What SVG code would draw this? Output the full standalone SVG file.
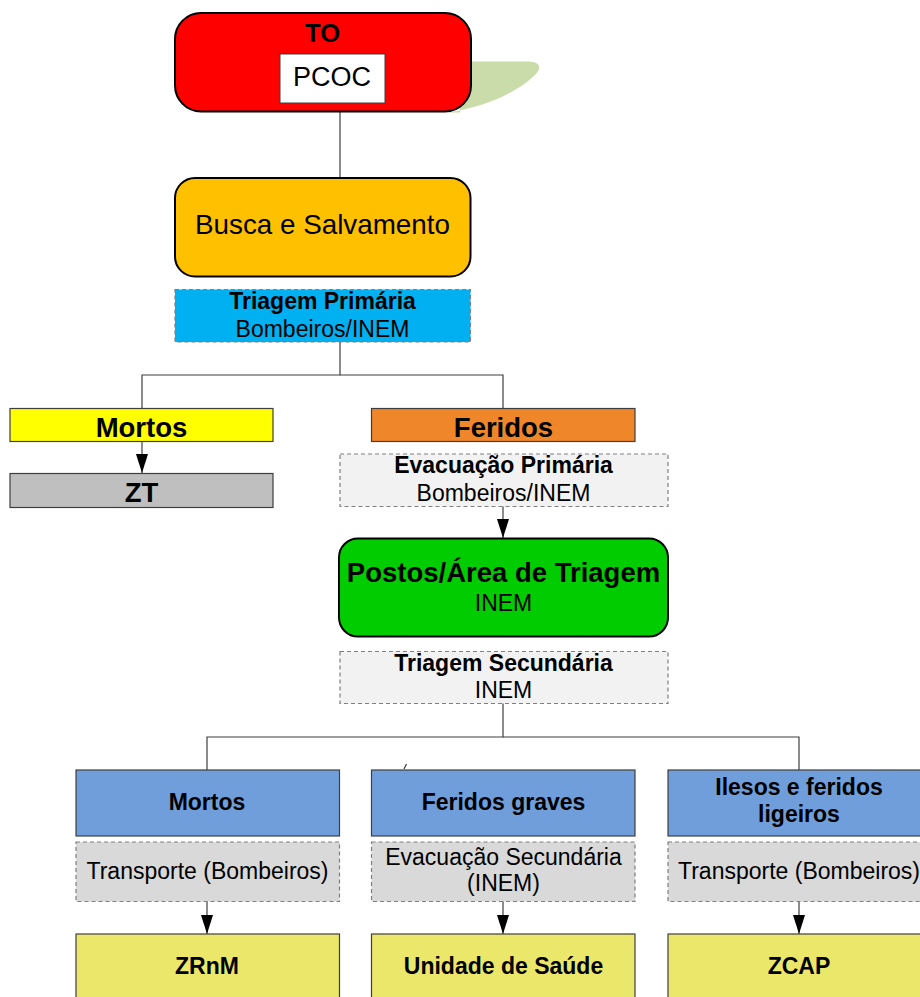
<svg xmlns="http://www.w3.org/2000/svg" width="920" height="997" viewBox="0 0 920 997">
<style>
text{font-family:"Liberation Sans",Arial,sans-serif;fill:#000;text-anchor:middle}
.b{font-weight:bold}
.big{font-size:27.5px}
.sm{font-size:23px}
.main{stroke:#000;stroke-width:2}
.solid{stroke:#3f3f3f;stroke-width:1.2}
.dash{stroke:#7f7f7f;stroke-width:1.2;stroke-dasharray:4 3}
.conn{stroke:#3f3f3f;stroke-width:1.2;fill:none}
</style>
<defs>
<marker id="arr" viewBox="0 0 19 12" refX="19" refY="6" markerWidth="19" markerHeight="12" orient="auto" markerUnits="userSpaceOnUse">
<path d="M0 0 L19 6 L0 12 Z" fill="#000"/>
</marker>
</defs>

<path id="blob" d="M460 61.5 L528 61.5 C540 62 542 67 536 74 C520 90 490 106 448 112.5 L460 112.5 Z" fill="#C9DCA9"/>

<g id="connectors">
<line class="conn" x1="340" y1="112" x2="340" y2="178"/>
<polyline class="conn" points="340,342 340,375 142,375 142,408"/>
<polyline class="conn" points="340,375 503,375 503,408"/>
<line class="conn" x1="142" y1="441" x2="142" y2="473" marker-end="url(#arr)"/>
<line class="conn" x1="503" y1="506" x2="503" y2="538" marker-end="url(#arr)"/>
<polyline class="conn" points="503,703 503,737 207,737 207,770"/>
<polyline class="conn" points="503,737 799,737 799,770"/>
<line class="conn" x1="404" y1="769" x2="406.5" y2="764" stroke-width="0.8"/>
<line class="conn" x1="207" y1="901" x2="207" y2="934" marker-end="url(#arr)"/>
<line class="conn" x1="503" y1="901" x2="503" y2="934" marker-end="url(#arr)"/>
<line class="conn" x1="799" y1="901" x2="799" y2="934" marker-end="url(#arr)"/>
</g>

<g id="to">
<rect class="main" x="175" y="13" width="296" height="98.5" rx="26" fill="#FF0000"/>
<text class="b" x="322.5" y="42" font-size="25.5">TO</text>
<rect x="280" y="54" width="105" height="49" fill="#fff" stroke="#3f3f3f" stroke-width="1"/>
<text x="332" y="86" font-size="27">PCOC</text>
</g>

<g id="busca">
<rect class="main" x="175" y="178" width="295.5" height="98.5" rx="20" fill="#FFC000"/>
<text x="322.5" y="234" font-size="27.8">Busca e Salvamento</text>
</g>

<g id="triagem-primaria">
<rect class="dash" x="175" y="289.5" width="295.5" height="52.5" fill="#00B0F0"/>
<text class="b sm" x="322.5" y="308.5">Triagem Primária</text>
<text class="sm" x="322.5" y="336.5">Bombeiros/INEM</text>
</g>

<g id="mortos1">
<rect class="solid" x="10" y="408.5" width="263" height="33" fill="#FFFF00"/>
<text class="b big" x="141.5" y="436.5">Mortos</text>
</g>

<g id="zt">
<rect class="solid" x="10" y="473.5" width="263" height="34" fill="#BFBFBF"/>
<text class="b big" x="141.5" y="501.5">ZT</text>
</g>

<g id="feridos">
<rect class="solid" x="371.5" y="408.5" width="263.5" height="33" fill="#F0862A"/>
<text class="b big" x="503.5" y="436.5">Feridos</text>
</g>

<g id="evac-primaria">
<rect class="dash" x="340" y="454" width="328" height="52.5" fill="#F2F2F2"/>
<text class="b sm" x="503.5" y="473">Evacuação Primária</text>
<text class="sm" x="503.5" y="501">Bombeiros/INEM</text>
</g>

<g id="postos">
<rect class="main" x="339" y="538.5" width="329" height="98" rx="19" fill="#00CC00" stroke-width="1.5"/>
<text class="b" x="503.5" y="582" font-size="27.5">Postos/Área de Triagem</text>
<text class="sm" x="503.5" y="611">INEM</text>
</g>

<g id="triagem-secundaria">
<rect class="dash" x="340" y="651.5" width="328" height="52" fill="#F2F2F2"/>
<text class="b sm" x="503.5" y="670.5">Triagem Secundária</text>
<text class="sm" x="503.5" y="698">INEM</text>
</g>

<g id="mortos2">
<rect class="solid" x="76" y="770" width="263.5" height="66" fill="#6F9EDA"/>
<text class="b sm" x="207" y="810">Mortos</text>
</g>
<g id="transporte1">
<rect class="dash" x="76" y="842" width="263.5" height="59.5" fill="#D9D9D9"/>
<text class="sm" x="207.5" y="879">Transporte (Bombeiros)</text>
</g>
<g id="zrnm">
<rect class="solid" x="76" y="934" width="263.5" height="70" fill="#EBE76A"/>
<text class="b sm" x="207" y="974">ZRnM</text>
</g>

<g id="feridos-graves">
<rect class="solid" x="371.5" y="770" width="263.5" height="66" fill="#6F9EDA"/>
<text class="b sm" x="503.5" y="810">Feridos graves</text>
</g>
<g id="evac-secundaria">
<rect class="dash" x="371.5" y="842" width="263.5" height="59.5" fill="#D9D9D9"/>
<text class="sm" x="503.5" y="865">Evacuação Secundária</text>
<text class="sm" x="503.5" y="891">(INEM)</text>
</g>
<g id="unidade-saude">
<rect class="solid" x="371.5" y="934" width="263.5" height="70" fill="#EBE76A"/>
<text class="b sm" x="503.5" y="974">Unidade de Saúde</text>
</g>

<g id="ilesos">
<rect class="solid" x="668" y="770" width="264" height="66" fill="#6F9EDA"/>
<text class="b sm" x="799" y="795">Ilesos e feridos</text>
<text class="b sm" x="799" y="822">ligeiros</text>
</g>
<g id="transporte2">
<rect class="dash" x="668" y="842" width="264" height="59.5" fill="#D9D9D9"/>
<text class="sm" x="799" y="879">Transporte (Bombeiros)</text>
</g>
<g id="zcap">
<rect class="solid" x="668" y="934" width="264" height="70" fill="#EBE76A"/>
<text class="b sm" x="799" y="974">ZCAP</text>
</g>
</svg>
